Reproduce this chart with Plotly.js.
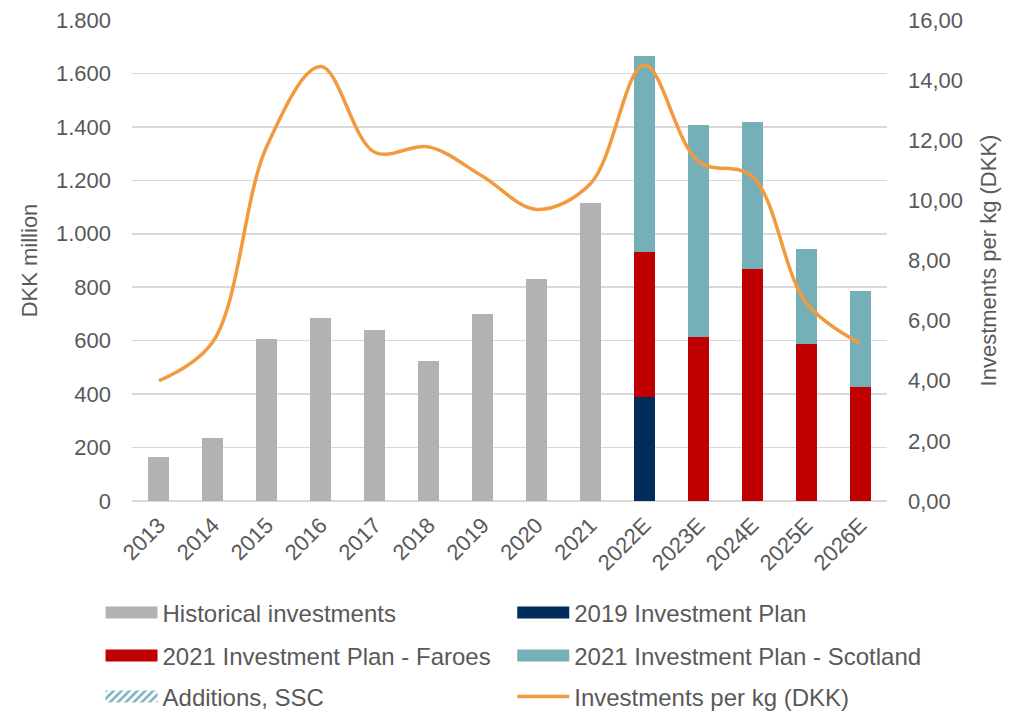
<!DOCTYPE html>
<html>
<head>
<meta charset="utf-8">
<script src="https://cdn.plot.ly/plotly-3.0.1.min.js"></script>
<style>html,body{margin:0;padding:0;background:#fff;}#chart{width:1026px;height:712px;}</style>
</head>
<body>
<div id="chart"></div>
<script>
const years = ["2013","2014","2015","2016","2017","2018","2019","2020","2021","2022E","2023E","2024E","2025E","2026E"];
const historical = [165, 236, 606, 685, 640, 525, 701, 832, 1115, null, null, null, null, null];
const plan2019 = [null, null, null, null, null, null, null, null, null, 390, null, null, null, null];
const planFaroes = [null, null, null, null, null, null, null, null, null, 540, 615, 868, 589, 428];
const planScotland = [null, null, null, null, null, null, null, null, null, 735, 793, 550, 355, 358];
const additionsSSC = [null, null, null, null, null, null, null, null, null, null, null, null, null, null];
const perKg = [4.0, 5.3, 11.8, 14.45, 11.6, 11.78, 10.8, 9.7, 10.55, 14.5, 11.3, 10.8, 6.6, 5.25];

const txt = "#595959";
const fam = "Liberation Sans, Arial, sans-serif";

const traces = [
  {type:"bar", name:"Historical investments", x:years, y:historical, marker:{color:"#b2b2b2"}, legend:"legend"},
  {type:"bar", name:"2019 Investment Plan", x:years, y:plan2019, marker:{color:"#002d5a"}, legend:"legend2"},
  {type:"bar", name:"2021 Investment Plan - Faroes", x:years, y:planFaroes, marker:{color:"#c00000"}, legend:"legend3"},
  {type:"bar", name:"2021 Investment Plan - Scotland", x:years, y:planScotland, marker:{color:"#75afb7"}, legend:"legend4"},
  {type:"bar", name:"Additions, SSC", x:years, y:additionsSSC, legend:"legend5",
   marker:{color:"#ffffff", pattern:{shape:"/", fgcolor:"#75afb7", bgcolor:"#ffffff", size:7, solidity:0.45}}},
  {type:"scatter", mode:"lines", name:"Investments per kg (DKK)", x:years, y:perKg, yaxis:"y2", legend:"legend6",
   line:{color:"#f39a3f", width:3.5, shape:"spline", smoothing:1}}
];

const plotL = 131.5, plotW = 755.5, figH = 712;
function leg(textLeftPx, rowCenterPx){
  return {orientation:"h", x:(textLeftPx - 63 - plotL) / plotW, xanchor:"left",
          y:1 - rowCenterPx / figH, yref:"container", yanchor:"middle",
          itemwidth:52, bgcolor:"rgba(0,0,0,0)", font:{family:fam, size:24, color:txt}};
}

const layout = {
  width:1026, height:712,
  margin:{l:131.5, r:139, t:20, b:211},
  paper_bgcolor:"#fff", plot_bgcolor:"#fff",
  separators:",.",
  font:{family:fam, size:22, color:txt},
  barmode:"stack", bargap:0.61,
  showlegend:true,
  legend:leg(163, 613),
  legend2:leg(575, 613),
  legend3:leg(163, 656),
  legend4:leg(575, 656),
  legend5:leg(163, 697),
  legend6:leg(575, 697),
  xaxis:{type:"category", tickangle:-45, showgrid:false, showline:false, ticks:"",
         ticklabelstandoff:6,
         tickfont:{family:fam, size:22, color:txt}},
  yaxis:{range:[0,1800], dtick:200, tickformat:",d", showgrid:true, gridcolor:"#d9d9d9", gridwidth:1.5,
         zeroline:true, zerolinecolor:"#d9d9d9", zerolinewidth:1.5, showline:false, ticks:"",
         ticklabelstandoff:20,
         title:{text:"DKK million", font:{family:fam, size:22, color:txt}, standoff:12},
         tickfont:{family:fam, size:22, color:txt}},
  yaxis2:{range:[0,16], dtick:2, tickformat:",.2f", overlaying:"y", side:"right", showgrid:false,
          zeroline:false, showline:false, ticks:"", ticklabelstandoff:20,
          title:{text:"Investments per kg (DKK)", font:{family:fam, size:22, color:txt}, standoff:18},
          tickfont:{family:fam, size:22, color:txt}}
};

const gd = document.getElementById("chart");
function widenSwatches(){
  // Excel-style wide legend swatches for the bar series
  gd.querySelectorAll(".legendpoints path").forEach(function(p){
    const d = p.getAttribute("d") || "";
    if (d.indexOf("M6,6H-6V-6H6Z") === 0) p.setAttribute("d", "M-26,6H26V-6H-26Z");
  });
}
Plotly.newPlot(gd, traces, layout, {displayModeBar:false, staticPlot:true}).then(widenSwatches);
</script>
</body>
</html>
